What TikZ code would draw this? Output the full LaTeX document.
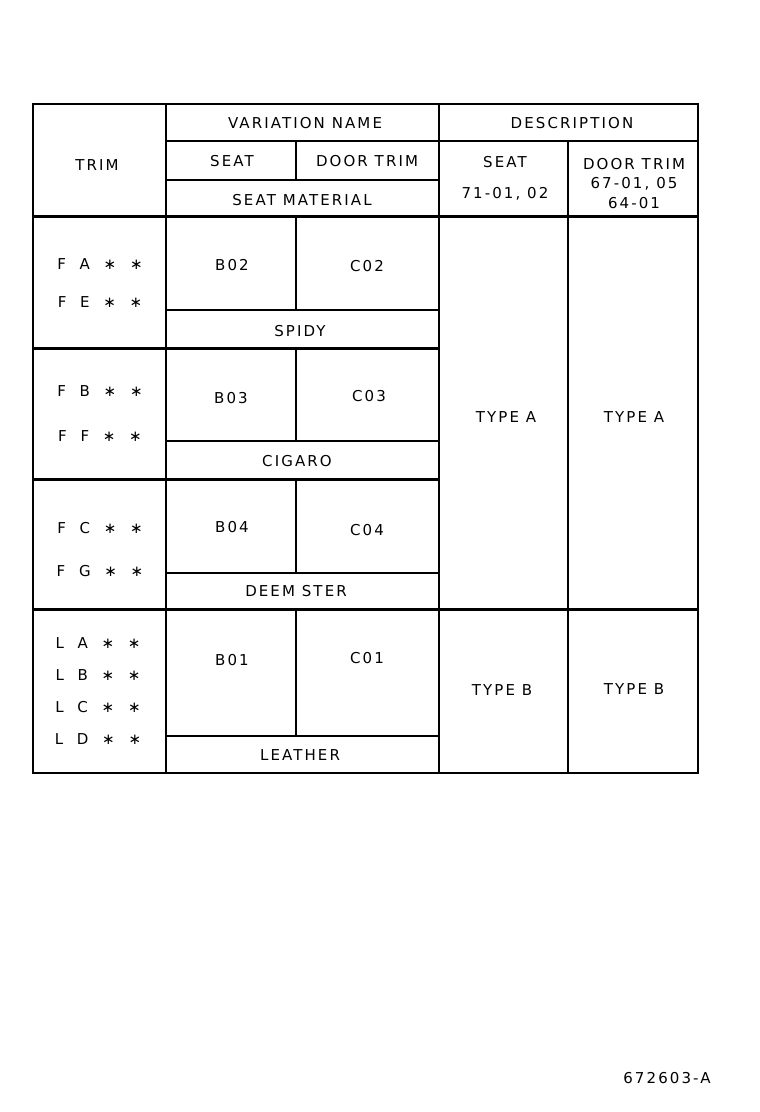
\documentclass[tikz,border=0pt]{standalone}
\usepackage{fontspec}
\setmainfont{DejaVu Sans}[LetterSpace=14]
\begin{document}
\begin{tikzpicture}[x=1pt,y=-1pt,
  thin/.style={line width=1.5pt},
  thick/.style={line width=3pt},
  lbl/.style={font=\fontsize{15}{17}\selectfont, inner sep=0pt},
  trim/.style={font=\fontsize{15}{17}\selectfont, inner sep=0pt}]
\useasboundingbox (0,0) rectangle (760,1112);
% outer
\draw[line width=2.2pt] (33,104) rectangle (698,773);
% vertical lines
\draw[thin] (166,104) -- (166,773);
\draw[thin] (439,104) -- (439,773);
\draw[thin] (568,141) -- (568,773);
\draw[thin] (296,141) -- (296,180);
\draw[thin] (296,216) -- (296,310);
\draw[thin] (296,348) -- (296,441);
\draw[thin] (296,479) -- (296,573);
\draw[thin] (296,609) -- (296,736);
% horizontal lines
\draw[thin] (166,141) -- (698,141);
\draw[thin] (166,180) -- (439,180);
\draw[thick] (33,216) -- (698,216);
\draw[thin] (166,310) -- (439,310);
\draw[thick] (33,348) -- (439,348);
\draw[thin] (166,441) -- (439,441);
\draw[thick] (33,479) -- (439,479);
\draw[thin] (166,573) -- (439,573);
\draw[thick] (33,609) -- (698,609);
\draw[thin] (166,736) -- (439,736);
% header texts
\node[lbl] (h1) at (97,165) {TRIM};
\node[lbl] (h2) at (305,123) {VARIATION NAME};
\node[lbl] (h3) at (572,123) {DESCRIPTION};
\node[lbl] (h4) at (232,161) {SEAT};
\node[lbl] (h5) at (367,161) {DOOR TRIM};
\node[lbl] (h6) at (302,200) {SEAT MATERIAL};
\node[lbl] (h7) at (505,162) {SEAT};
\node[lbl] (h8) at (505,194) {71-01, 02};
\node[lbl] (h9) at (634,164) {DOOR TRIM};
\node[lbl] (h10) at (634,184) {67-01, 05};
\node[lbl] (h11) at (634,203) {64-01};
% group 1
\node[trim] (t1) at (100,264) {F\ \ A\ \ ∗\ \ ∗};
\node[trim] (t2) at (100,302) {F\ \ E\ \ ∗\ \ ∗};
\node[lbl] (b2) at (232,265) {B02};
\node[lbl] (c2) at (367,266) {C02};
\node[lbl] (m1) at (300,331) {SPIDY};
% group 2
\node[trim] (t3) at (100,391) {F\ \ B\ \ ∗\ \ ∗};
\node[trim] (t4) at (100,436) {F\ \ F\ \ ∗\ \ ∗};
\node[lbl] (b3) at (231,398) {B03};
\node[lbl] (c3) at (369,396) {C03};
\node[lbl] (m2) at (297,461) {CIGARO};
% group 3
\node[trim] (t5) at (100,528) {F\ \ C\ \ ∗\ \ ∗};
\node[trim] (t6) at (100,571) {F\ \ G\ \ ∗\ \ ∗};
\node[lbl] (b4) at (232,527) {B04};
\node[lbl] (c4) at (367,530) {C04};
\node[lbl] (m3) at (296,591) {DEEM STER};
% type A
\node[lbl] (ta1) at (506,417) {TYPE A};
\node[lbl] (ta2) at (634,417) {TYPE A};
% group 4
\node[trim] (t7) at (98,643) {L\ \ A\ \ ∗\ \ ∗};
\node[trim] (t8) at (98,675) {L\ \ B\ \ ∗\ \ ∗};
\node[trim] (t9) at (98,707) {L\ \ C\ \ ∗\ \ ∗};
\node[trim] (t10) at (98,739) {L\ \ D\ \ ∗\ \ ∗};
\node[lbl] (b1) at (232,660) {B01};
\node[lbl] (c1) at (367,658) {C01};
\node[lbl] (m4) at (300,755) {LEATHER};
\node[lbl] (tb1) at (502,690) {TYPE B};
\node[lbl] (tb2) at (634,689) {TYPE B};
% code
\node[lbl] (code) at (667,1078) {672603-A};
\end{tikzpicture}
\end{document}
